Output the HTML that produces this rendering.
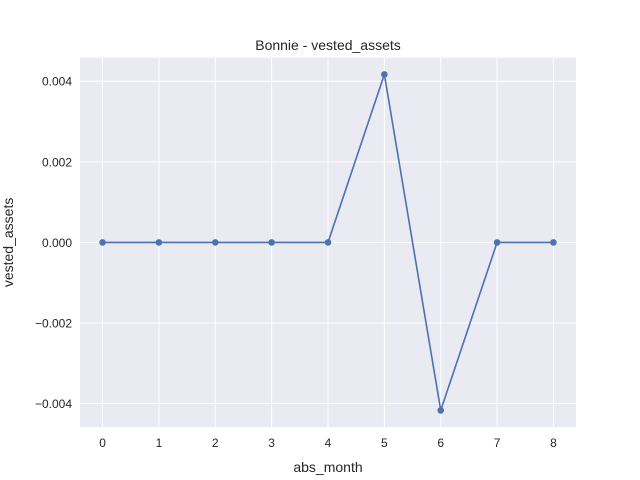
<!DOCTYPE html>
<html><head><meta charset="utf-8"><style>body{margin:0;background:#fff}svg{display:block;font-family:"Liberation Sans","DejaVu Sans",sans-serif}</style></head>
<body>
<svg id="chart" width="640" height="480" xmlns="http://www.w3.org/2000/svg">
<rect x="0" y="0" width="640" height="480" fill="#fff"/>
<rect x="80" y="57.6" width="496" height="369.6" fill="#eaeaf2"/>
<g id="grid"></g><g id="ticks"></g><g id="series"></g>
<text x="328" y="50" text-anchor="middle" font-size="14" fill="#262626">Bonnie - vested_assets</text>
<text x="328" y="472" text-anchor="middle" font-size="14" fill="#262626">abs_month</text>
<text transform="translate(13,242.4) rotate(-90)" text-anchor="middle" font-size="14" fill="#262626">vested_assets</text>
</svg>
<script>
const months=[0,1,2,3,4,5,6,7,8];
const values=[0,0,0,0,0,0.00417,-0.00417,0,0];
const xTicks=[0,1,2,3,4,5,6,7,8];
const yTicks=[-0.004,-0.002,0,0.002,0.004];
const yTickLabels=["−0.004","−0.002","0.000","0.002","0.004"];
const L=80,R=576,T=57.6,B=427.2;
const xmin=-0.4,xmax=8.4,ymin=-0.004587,ymax=0.004587;
const X=v=>L+(v-xmin)/(xmax-xmin)*(R-L);
const Y=v=>B-(v-ymin)/(ymax-ymin)*(B-T);
const NS="http://www.w3.org/2000/svg";
function mk(t,a,p){const e=document.createElementNS(NS,t);for(const k in a)e.setAttribute(k,a[k]);p.appendChild(e);return e;}
const g=document.getElementById('grid'),tk=document.getElementById('ticks'),s=document.getElementById('series');
xTicks.forEach(v=>{
const l=mk('line',{x1:X(v),x2:X(v),y1:T,y2:B,stroke:'#fff','stroke-width':1},g);


const t=mk('text',{x:X(v),y:B+20,'text-anchor':'middle','font-size':12,fill:'#262626'},tk);t.textContent=v;


});
yTicks.forEach((v,i)=>{
const l=mk('line',{x1:L,x2:R,y1:Y(v),y2:Y(v),stroke:'#fff','stroke-width':1},g);


const t=mk('text',{x:L-8,y:Y(v)+4.5,'text-anchor':'end','font-size':12,fill:'#262626'},tk);t.textContent=yTickLabels[i];


});
const pts=months.map((m,i)=>X(m)+','+Y(values[i])).join(' ');
const pl=mk('polyline',{points:pts,fill:'none',stroke:'#4c72b0','stroke-width':1.6},s);


months.forEach((m,i)=>{
const c=mk('circle',{cx:X(m),cy:Y(values[i]),r:3.3,fill:'#4c72b0'},s);


});
</script>
</body></html>
